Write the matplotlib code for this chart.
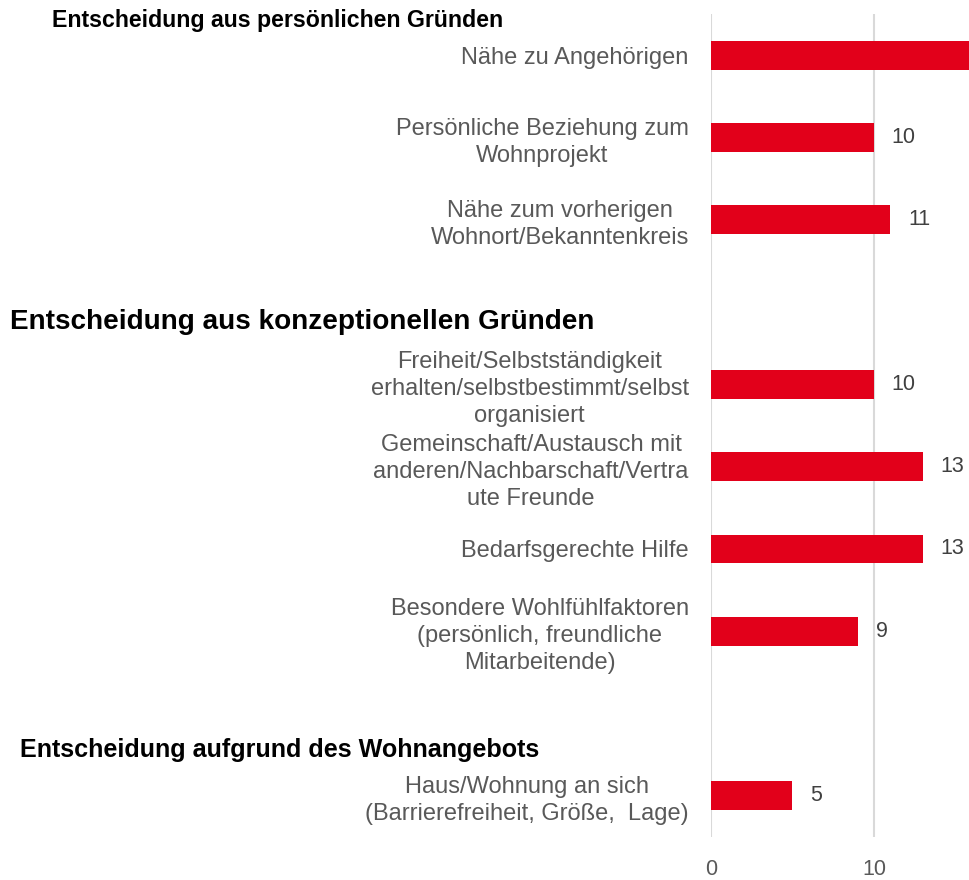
# libraries
import numpy as np
import matplotlib.pyplot as plt

plt.rcParams['font.family'] = ['Liberation Sans', 'DejaVu Sans']

# group headers and the reasons under each
groups = ["Entscheidung aus persönlichen Gründen",
          "Entscheidung aus konzeptionellen Gründen",
          "Entscheidung aufgrund des Wohnangebots"]
reasons = [["Nähe zu Angehörigen",
            "Persönliche Beziehung zum\nWohnprojekt",
            "Nähe zum vorherigen\nWohnort/Bekanntenkreis"],
           ["Freiheit/Selbstständigkeit\nerhalten/selbstbestimmt/selbst\norganisiert",
            "Gemeinschaft/Austausch mit\nanderen/Nachbarschaft/Vertra\nute Freunde",
            "Bedarfsgerechte Hilfe",
            "Besondere Wohlfühlfaktoren\n(persönlich, freundliche\nMitarbeitende)"],
           ["Haus/Wohnung an sich\n(Barrierefreiheit, Größe,  Lage)"]]
counts = [[17, 10, 11],
          [10, 13, 13, 9],
          [5]]

# one empty row between groups
labels, values, rows = [], [], []
r = 0
for names, vals in zip(reasons, counts):
    for n, v in zip(names, vals):
        labels.append(n)
        values.append(v)
        rows.append(r)
        r += 1
    r += 1

xmax = 15.9

fig = plt.figure(figsize=(9.7, 8.8), dpi=100)
ax = fig.add_axes([0.733, 0.049, 0.267, 0.935])

ax.barh(rows, values, height=0.35, color='#e2001a', zorder=3)
ax.set_xlim(0, xmax)
ax.set_ylim(9.5, -0.5)
ax.set_xticks([0, 10])
ax.xaxis.grid(True, color='#d9d9d9', linewidth=1.5, zorder=0)
for s in ax.spines.values():
    s.set_visible(False)
ax.tick_params(length=0, labelcolor='#595959')
ax.tick_params(axis='x', pad=16, labelsize=15.5)
ax.tick_params(axis='y', pad=16, labelsize=17)
ax.set_yticks(rows)
ax.set_yticklabels(labels)
for t in ax.get_yticklabels():
    t.set_multialignment('center')
    t.set_linespacing(1.3)

# data labels (the bar that runs off the right edge has its label cut away)
for y, v in zip(rows, values):
    if v + 2.5 < xmax:
        ax.text(v + 1.1, y, str(v), va='center', ha='left', fontsize=15.5,
                color='#404040')

# group headers
header_pos = [(52, 20, 16.7), (10, 322, 20.1), (20, 750, 18.1)]
for name, (px, py, fs) in zip(groups, header_pos):
    fig.text(px / 970, 1 - py / 880, name, ha='left', va='center',
             fontsize=fs, fontweight='bold', color='black')

fig.savefig('out.png', dpi=100)
